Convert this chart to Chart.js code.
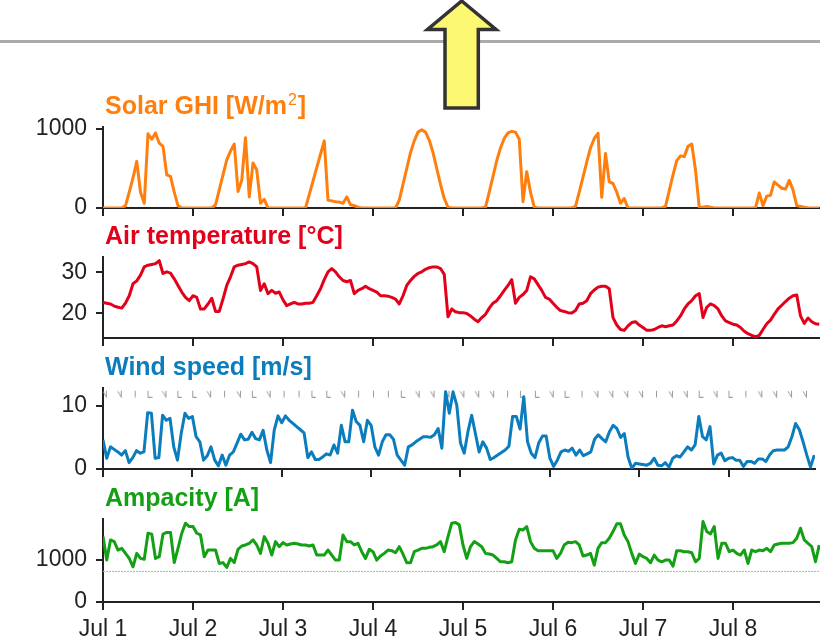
<!DOCTYPE html>
<html>
<head>
<meta charset="utf-8">
<script src="https://cdn.jsdelivr.net/npm/chart.js@4.4.1/dist/chart.umd.min.js"></script>
<style>
  body { margin: 0; background: #fff; width: 820px; height: 641px; overflow: hidden; position: relative; }
  canvas { position: absolute; left: 0; }
  #topline { position: absolute; left: 0; top: 40px; width: 820px; height: 3px; background: #aaaaaa; }
  #arrow { position: absolute; left: 0; top: 0; }
</style>
</head>
<body>
<div id="topline"></div>
<canvas id="solarChart" width="820" height="136" style="top:82px"></canvas>
<canvas id="tempChart" width="820" height="136" style="top:212px"></canvas>
<canvas id="windChart" width="820" height="136" style="top:343px"></canvas>
<canvas id="ampChart" width="820" height="167" style="top:474px"></canvas>
<svg id="arrow" width="820" height="120">
  <polygon points="461.7,1 496,29.5 478.3,29.5 478.3,108 445,108 445,29.5 427.5,29.5"
           fill="#fdf871" stroke="#333" stroke-width="3.5" stroke-linejoin="miter"/>
</svg>
<script>
// hourly values, Jul 1 00:00 -> Jul 8 23:00
const solarGhi = [
  0,0,0,0,0,0,30,200,380,590,200,60,940,870,950,820,780,420,400,200,30,0,0,0,
  0,0,0,0,0,0,40,230,420,610,720,810,210,350,890,140,570,480,60,110,0,0,0,0,
  0,0,0,0,0,0,0,170,340,510,680,850,100,90,80,75,60,140,40,30,10,0,0,0,
  0,0,0,0,0,0,0,100,300,500,700,850,960,990,960,860,700,500,300,120,10,0,0,0,
  0,0,0,0,0,0,10,200,400,600,760,880,950,970,960,870,80,460,200,10,0,0,0,0,
  0,0,0,0,0,0,20,200,390,580,760,880,945,135,690,330,310,200,60,120,0,0,0,0,
  0,0,0,0,0,0,20,220,420,600,660,650,780,810,480,10,10,20,10,0,0,0,0,0,
  0,0,0,0,0,0,0,190,30,150,160,330,290,250,240,350,230,30,20,10,0,0,0,0
];
const airTemp = [
  22.7,22.5,22.3,21.8,21.5,21.3,22.5,24.3,27.2,27.9,29.3,31.3,31.7,31.9,32.1,32.8,29.7,30.1,29.8,28.4,26.8,25.2,23.9,23.1,
  24.3,23.9,21.1,21.1,22.3,23.7,20.5,20.5,23.5,26.8,28.9,31.3,31.7,31.9,32.1,32.5,32.1,31.3,25.6,27.2,24.8,25.6,24.9,25.2,
  23.3,21.9,22.3,22.7,22.3,22.3,22.5,22.5,22.7,24.3,26.0,28.2,30.1,30.9,30.1,28.9,28.0,27.7,28.0,24.8,25.6,26.0,26.6,26.0,
  25.6,25.2,24.3,24.3,24.2,23.9,23.5,22.3,24.3,26.8,28.0,29.0,29.7,30.1,30.7,31.1,31.3,31.3,30.9,29.5,19.2,21.1,20.4,20.2,
  20.2,20.0,19.4,18.6,18.0,19.0,19.8,21.3,22.5,23.1,24.3,25.6,26.8,28.2,22.5,23.9,24.6,25.6,28.9,28.4,27.0,25.6,23.9,23.5,
  22.5,21.5,20.7,20.5,20.2,20.1,20.7,22.3,22.5,23.1,24.8,25.7,26.4,26.6,26.6,26.0,19.0,17.2,16.1,15.9,17.0,17.8,18.0,17.2,
  16.6,15.9,15.9,16.1,16.6,17.0,16.8,17.0,17.2,18.2,19.4,21.1,22.3,23.1,24.3,24.8,19.0,21.5,22.3,21.9,21.1,19.4,18.2,17.8,
  17.4,17.2,16.6,15.7,15.1,14.7,14.3,14.7,16.1,17.5,18.4,19.8,21.1,22.0,22.9,23.7,24.3,24.5,19.4,17.6,18.9,18.0,17.5,17.4
];
const windSpeed = [
  4.6,1.7,3.5,3.1,2.7,2.2,2.9,1.0,1.8,2.9,2.5,2.7,8.9,8.8,1.7,1.8,8.5,7.7,8.0,3.5,1.4,5.6,8.8,8.0,
  8.3,5.1,4.3,1.4,2.1,3.5,1.4,0.5,2.2,0.6,2.2,2.7,4.1,5.5,4.6,4.7,5.8,4.8,4.6,6.1,3.0,1.0,6.2,8.4,
  7.3,8.4,7.7,7.2,6.7,6.2,5.7,1.8,2.7,1.5,1.5,1.9,2.4,2.2,3.8,2.5,6.9,4.3,4.3,9.3,7.5,6.9,4.3,7.7,
  6.9,3.5,2.2,4.3,5.4,5.4,4.7,2.2,1.4,0.6,3.5,3.8,4.3,4.7,5.1,5.1,5.0,5.4,6.4,3.3,12.2,8.8,12.2,10.1,
  4.1,2.5,5.9,8.5,5.6,2.7,4.3,3.3,1.5,1.8,2.2,2.6,3.0,3.6,8.3,8.3,6.3,11.4,4.3,2.5,1.8,4.1,5.2,5.2,
  1.7,0.4,1.4,2.7,3.0,2.8,3.3,2.2,3.0,2.1,2.4,2.7,4.7,5.4,4.8,4.3,5.9,6.9,6.4,5.0,5.6,1.9,0.1,0.9,
  0.8,0.7,0.6,0.9,1.7,0.6,0.5,1.0,0.3,1.7,2.1,1.9,2.7,3.5,3.0,3.8,8.3,5.1,4.6,6.7,0.8,2.2,2.5,1.3,
  1.7,1.8,1.4,1.4,0.4,1.2,1.2,0.9,1.6,1.6,1.2,2.2,2.9,3.0,3.0,3.0,3.5,5.1,7.2,6.2,4.3,2.2,0.3,2.2
];
const ampacity = [
  1560,1000,1480,1440,1240,1280,1160,1040,840,1160,1040,1020,1640,1620,1040,1080,1620,1660,1660,940,1280,1640,1880,1800,
  1800,1640,1600,1080,1240,1240,1240,920,940,824,1040,940,1256,1336,1360,1400,1480,1360,1160,1560,1400,1120,1440,1320,
  1416,1360,1384,1400,1384,1360,1360,1336,1360,1120,1120,1120,1240,1120,1000,1000,1600,1440,1440,1360,1400,1200,1040,1256,
  1200,1000,1096,1160,1240,1224,1176,1320,1144,936,936,1200,1240,1280,1280,1304,1320,1360,1440,1200,1560,1880,1896,1840,
  1360,1040,1320,1440,1384,1320,1160,1144,1120,1040,960,960,936,960,1480,1736,1720,1800,1440,1280,1224,1224,1224,1224,
  1224,1040,1160,1360,1424,1416,1440,1360,1096,1120,1160,880,1280,1416,1416,1520,1680,1864,1864,1600,1440,1160,920,1144,
  1080,1040,936,1120,1000,960,1000,1000,856,1224,1224,1200,1200,1176,960,1040,1920,1680,1624,1800,1040,1400,1400,1200,
  1240,1160,1120,1240,920,1240,1200,1240,1224,1280,1200,1360,1384,1400,1400,1400,1416,1520,1760,1480,1400,1320,960,1360
];
const ampacityLimit = 730;
// wind direction glyphs, one every 4 hours
const windBarbs = [
  "V","V","I","L","V","L","L","V","I","V","L","V","I","I","L","L","V","I","I","I","L","V","V","V",
  "V","V","V","I","L","L","V","L","I","V","V","V","V","I","V","V","L","V","L","I","V","V","V","V"
];
const dayTicks = [0, 24, 48, 72, 96, 120, 144, 168];
const dayLabels = ["Jul 1", "Jul 2", "Jul 3", "Jul 4", "Jul 5", "Jul 6", "Jul 7", "Jul 8"];

const FONT = "'Liberation Sans', Arial, sans-serif";
Chart.defaults.font.family = FONT;

const toPoints = (arr) => arr.map((v, i) => ({ x: i, y: v }));

// title drawn just above each panel, starting at the y axis
const panelTitle = {
  id: "panelTitle",
  afterDraw(chart, args, opts) {
    const { ctx, chartArea } = chart;
    ctx.save();
    ctx.fillStyle = opts.color;
    ctx.textBaseline = "alphabetic";
    ctx.font = "bold 25px " + FONT;
    let x = chartArea.left + 2;
    const y = chartArea.top - 13;
    ctx.fillText(opts.text, x, y);
    x += ctx.measureText(opts.text).width;
    if (opts.sup) {
      ctx.font = "16px " + FONT;
      ctx.fillText(opts.sup, x + 1, y - 9);
      x += ctx.measureText(opts.sup).width + 2;
      ctx.font = "bold 25px " + FONT;
      ctx.fillText(opts.after, x, y);
    }
    ctx.restore();
  },
};

function glyph(type) {
  const c = document.createElement("canvas");
  c.width = 6;
  c.height = 8;
  const g = c.getContext("2d");
  g.strokeStyle = "#9a9a9a";
  g.lineWidth = 1;
  g.beginPath();
  if (type === "L") {
    g.moveTo(1.5, 1); g.lineTo(1.5, 7.5); g.lineTo(5.5, 7.5);
  } else if (type === "V") {
    g.moveTo(4.5, 1); g.lineTo(4.5, 7.5); g.moveTo(1, 1.5); g.lineTo(4.5, 7.5);
  } else {
    g.moveTo(3.5, 1); g.lineTo(3.5, 7.5);
  }
  g.stroke();
  return c;
}
const glyphs = { L: glyph("L"), V: glyph("V"), I: glyph("I") };

function makePanel(id, { datasets, yMin, yMax, yTicks, title, bottom }) {
  const ctx = document.getElementById(id).getContext("2d");
  return new Chart(ctx, {
    type: "line",
    data: { datasets },
    plugins: [panelTitle],
    options: {
      responsive: false,
      animation: false,
      layout: { padding: { top: 45, left: 0, right: 0, bottom: 0 } },
      elements: { point: { radius: 0 }, line: { tension: 0, borderJoinStyle: "round" } },
      plugins: { legend: { display: false }, tooltip: { enabled: false }, panelTitle: title },
      scales: {
        x: {
          type: "linear",
          min: 0,
          max: 191.2,
          afterBuildTicks: (s) => { s.ticks = dayTicks.map((v) => ({ value: v })); },
          afterFit: (s) => { s.height = bottom ? 39 : 10; s.paddingLeft = 0; s.paddingRight = 0; },
          grid: { drawOnChartArea: false, tickLength: 8, color: "#222", lineWidth: 2 },
          border: { color: "#222", width: 2 },
          ticks: {
            display: !!bottom,
            autoSkip: false,
            maxRotation: 0,
            padding: 6,
            color: "#222",
            font: { size: 23 },
            callback: (v) => dayLabels[dayTicks.indexOf(v)],
          },
        },
        y: {
          min: yMin,
          max: yMax,
          afterBuildTicks: (s) => { s.ticks = yTicks.map((v) => ({ value: v })); },
          afterFit: (s) => { s.width = 103; s.paddingTop = 0; s.paddingBottom = 0; },
          grid: { drawOnChartArea: false, tickLength: 7, color: "#222", lineWidth: 2 },
          border: { color: "#222", width: 2 },
          ticks: { color: "#222", padding: 9, font: { size: 23 }, callback: (v) => String(v) },
        },
      },
    },
  });
}

makePanel("solarChart", {
  yMin: 0, yMax: 1025, yTicks: [0, 1000],
  title: { text: "Solar GHI [W/m", sup: "2", after: "]", color: "#ff7f0e" },
  datasets: [{ data: toPoints(solarGhi), borderColor: "#ff7f0e", borderWidth: 3 }],
});

makePanel("tempChart", {
  yMin: 14.05, yMax: 33.7, yTicks: [20, 30],
  title: { text: "Air temperature [°C]", color: "#e3001b" },
  datasets: [{ data: toPoints(airTemp), borderColor: "#e3001b", borderWidth: 3 }],
});

makePanel("windChart", {
  yMin: 0, yMax: 12.8, yTicks: [0, 10],
  title: { text: "Wind speed [m/s]", color: "#0b7dbd" },
  datasets: [
    { data: toPoints(windSpeed), borderColor: "#0b7dbd", borderWidth: 3 },
    {
      data: windBarbs.map((t, i) => ({ x: 0.5 + 4 * i, y: 11.9 })),
      showLine: false,
      pointRadius: 3,
      pointStyle: (c) => glyphs[windBarbs[c.dataIndex]],
    },
  ],
});

makePanel("ampChart", {
  yMin: 0, yMax: 1980, yTicks: [0, 1000], bottom: true,
  title: { text: "Ampacity [A]", color: "#14a014" },
  datasets: [
    { data: toPoints(ampacity), borderColor: "#14a014", borderWidth: 3 },
    {
      data: [{ x: 0, y: ampacityLimit }, { x: 191.2, y: ampacityLimit }],
      borderColor: "#7fd37f",
      borderWidth: 1,
      borderDash: [2, 1],
    },
  ],
});
</script>
</body>
</html>
